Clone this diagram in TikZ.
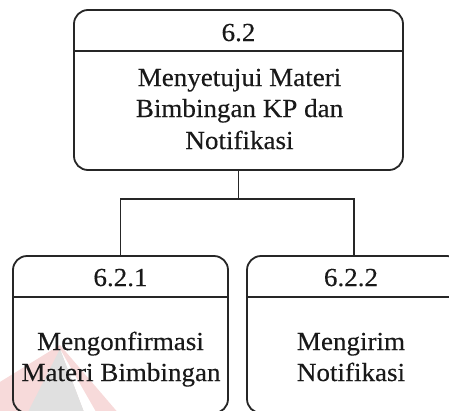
\documentclass[tikz,border=0pt]{standalone}
\usepackage{fontspec}
\setmainfont{Liberation Serif}[FakeStretch=1.04, FakeBold=0.35]
\definecolor{markpink}{RGB}{247,218,218}
\definecolor{markgrey}{RGB}{224,224,224}
\tikzset{
  procbox/.style={draw=black!85, line width=1.8pt, rounded corners=14pt,
    inner sep=0pt, outer sep=0pt},
  divider/.style={draw=black!85, line width=1.8pt},
  link/.style={draw=black!85, line width=1.8pt},
  label/.style={anchor=base, inner sep=0pt, text=black!90,
    font=\fontsize{26}{31}\selectfont}
}
\begin{document}
\begin{tikzpicture}[x=1pt, y=-1pt]
  \useasboundingbox (0,0) rectangle (449,410);
  \clip (0,0) rectangle (449,410);

  % faint logo watermark, lower left
  \fill[markpink] (60,345) -- (-70,425) -- (120,415) -- cycle;
  \fill[white] (60,349) -- (84,412) -- (96,412) -- cycle;
  \fill[markgrey] (60,349) -- (28,412) -- (84,412) -- cycle;

  % process boxes
  \node[procbox, minimum width=329pt, minimum height=160pt] (p62) at (238.5,90) {};
  \node[procbox, minimum width=215pt, minimum height=157pt] (p621) at (120.5,334.5) {};
  \node[procbox, minimum width=214pt, minimum height=157pt] (p622) at (354,334.5) {};

  % header dividers
  \draw[divider] (p62.west |- 0,51) -- (p62.east |- 0,51);
  \draw[divider] (p621.west |- 0,297) -- (p621.east |- 0,297);
  \draw[divider] (p622.west |- 0,297) -- (p622.east |- 0,297);

  % hierarchy connectors
  \coordinate (fork) at (p62.south |- 0,199);
  \draw[link] (p62.south) -- (fork) -| (p621.north);
  \draw[link] (fork) -| (p622.north);

  % texts
  \node[label] (t62) at (238.5,41) {6.2};
  \node[label] (t62a) at (239.5,86) {Menyetujui Materi};
  \node[label] (t62b) at (239.5,117) {Bimbingan KP dan};
  \node[label] (t62c) at (239.5,149) {Notifikasi};

  \node[label] (t621) at (120.5,286) {6.2.1};
  \node[label] (t621a) at (120.5,350) {Mengonfirmasi};
  \node[label] (t621b) at (121,381) {Materi Bimbingan};

  \node[label] (t622) at (351,286) {6.2.2};
  \node[label] (t622a) at (351,350) {Mengirim};
  \node[label] (t622b) at (351,381) {Notifikasi};
\end{tikzpicture}
\end{document}
